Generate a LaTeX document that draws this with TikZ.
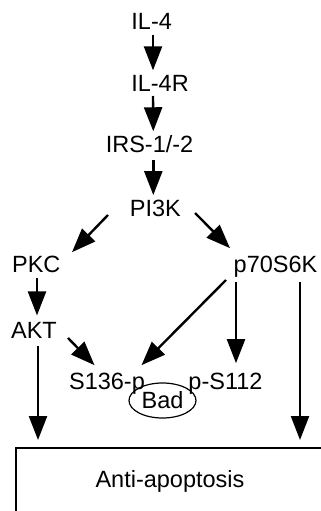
\documentclass[tikz,border=0pt]{standalone}
\usepackage{fontspec}
\setmainfont{Liberation Sans}
\usetikzlibrary{arrows.meta,calc,shapes.geometric}
\begin{document}
\begin{tikzpicture}[x=1pt,y=-1pt,
 lbl/.style={inner sep=0pt,anchor=base,font=\fontsize{23.5}{28}\selectfont},
 arr/.style={line width=2.4pt,-{Triangle[length=24pt,width=18pt]}},
 boxline/.style={line width=1.4pt}]
\useasboundingbox (0,0) rectangle (321,511);
\node[lbl] (il4) at (151.7,30) {IL-4};
\node[lbl] (il4r) at (160,91.7) {IL-4R};
\node[lbl] (irs) at (149.5,152.3) {IRS-1/-2};
\node[lbl] (pi3k) at (155.3,216.7) {PI3K};
\node[lbl] (pkc) at (36.3,272.7) {PKC};
\node[lbl] (p70) at (275.5,272.7) {p70S6K};
\node[lbl] (akt) at (34,338.3) {AKT};
\node[lbl] (s136) at (107,389) {S136-p};
\node[lbl] (ps112) at (225.5,389) {p-S112};
\node[draw,ellipse,line width=1.2pt,inner sep=0pt,minimum width=67pt,minimum height=35pt,
      font=\fontsize{23.5}{28}\selectfont] (bad) at (162.5,400.5) {Bad};
\node[lbl] (anti) at (170,487) {Anti-apoptosis};
\coordinate (boxcorner) at (16,448);
\draw[boxline] (16,520) -- (boxcorner) -- (330,448);
% arrows
\draw[arr] ($(il4.base)+(1.3,5)$) -- ($(il4r.north)+(-7,-5)$);
\draw[arr] ($(il4r.base)+(-7,4.3)$) -- ($(irs.north)+(3.8,-3.8)$);
\draw[arr] ($(irs.base)+(3.8,7.7)$) -- ($(pi3k.north)+(-2,-5)$);
\draw[arr] ($(pi3k.base)+(-47.3,-1.7)$) -- ($(pkc.north)+(35.7,-3.9)$);
\draw[arr] ($(pi3k.base)+(39.7,-3.7)$) -- ($(p70.north)+(-45.5,-7.9)$);
\draw[arr] ($(pkc.base)+(0.7,5.3)$) -- ($(akt.north)+(3,-6.5)$);
\draw[arr] ($(p70.base)+(-49.5,7.3)$) -- ($(s136.north)+(34.5,-7.2)$);
\draw[arr] ($(p70.base)+(-39.5,9.3)$) -- ($(ps112.north)+(10.5,-9.2)$);
\draw[arr] ($(p70.base)+(24.5,9.3)$) -- ($(boxcorner)+(284,-8)$);
\draw[arr] ($(akt.base)+(4,7.7)$) -- ($(boxcorner)+(22,-8)$);
\draw[arr] ($(akt.base)+(34,-0.3)$) -- ($(s136.north)+(-12.5,-7.2)$);
\end{tikzpicture}
\end{document}
